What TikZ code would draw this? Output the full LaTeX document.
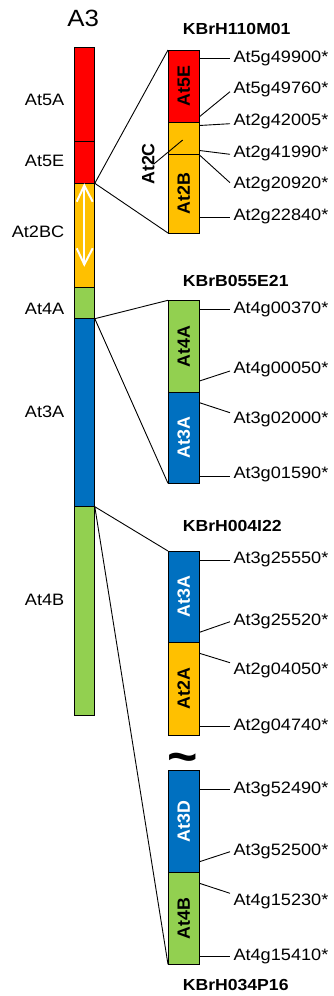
\documentclass[tikz,border=0pt]{standalone}
\usepackage{fontspec}
\usepackage{graphicx}
\setmainfont{Liberation Sans}
\newfontfamily\widesans[FakeStretch=1.1]{Liberation Sans}
\definecolor{cred}{HTML}{FF0000}
\definecolor{cgold}{HTML}{FFC000}
\definecolor{cgreen}{HTML}{92D050}
\definecolor{cblue}{HTML}{0070C0}

\tikzset{
  chrseg/.style={draw=black, line width=0.9pt, minimum width=20.8pt, inner sep=0pt, outer sep=0pt, anchor=north west},
  bacseg/.style={draw=black, line width=0.9pt, minimum width=31.5pt, inner sep=0pt, outer sep=0pt, anchor=north west},
  seglab/.style={rotate=90, inner sep=0pt, font=\fontsize{17.8}{18}\selectfont\bfseries},
  genelab/.style={anchor=base west, inner sep=0pt, font=\widesans\fontsize{16.5}{17}\selectfont},
  leftlab/.style={anchor=base east, inner sep=0pt, font=\widesans\fontsize{16.5}{17}\selectfont},
  clonetitle/.style={anchor=base west, inner sep=0pt, font=\widesans\bfseries\fontsize{16}{17}\selectfont},
  conn/.style={draw=black, line width=0.9pt},
  dupl/.style={draw=white, line width=2pt},
}

% gene marker: id, y on the clone, y at the label, label baseline, name
\newcommand\genemark[5]{%
  \coordinate (#1s) at (199.5,#2);
  \coordinate (#1e) at (230,#3);
  \node[genelab] (#1) at (233.3,#4) {#5};
  \draw[conn] (#1s) -- (#1e);
}

\begin{document}
\begin{tikzpicture}[x=1pt,y=-1pt]
\useasboundingbox (0,0) rectangle (333,996);

% chromosome A3
\node[inner sep=0pt, anchor=base, font=\widesans\fontsize{23.5}{24}\selectfont] (a3) at (83.3,26.7) {A3};
\node[chrseg, fill=cred,   minimum height=94.3pt] (c5a)  at (74,47) {};
\node[chrseg, fill=cred,   minimum height=42pt]   (c5e)  at (74,141.3) {};
\node[chrseg, fill=cgold,  minimum height=104.4pt] (c2bc) at (74,183.3) {};
\node[chrseg, fill=cgreen, minimum height=31pt]   (c4a)  at (74,287.7) {};
\node[chrseg, fill=cblue,  minimum height=188pt]  (c3a)  at (74,318.7) {};
\node[chrseg, fill=cgreen, minimum height=209pt]  (c4b)  at (74,506.7) {};

\node[leftlab] (l5a)  at (64.5,105)   {At5A};
\node[leftlab] (l5e)  at (64.5,166)   {At5E};
\node[leftlab] (l2bc) at (64.5,237.5) {At2BC};
\node[leftlab] (l4a)  at (64.5,314)   {At4A};
\node[leftlab] (l3a)  at (64.5,417.7) {At3A};
\node[leftlab] (l4b)  at (64.5,605)   {At4B};

% inverted segment arrow
\coordinate (invtop) at (84.3,185.5);
\coordinate (invbot) at (84.3,264.5);
\draw[dupl] (invtop) -- (invbot);
\draw[dupl, line join=miter] (76.7,201.7) -- (invtop) -- (92.7,201.7);
\draw[dupl, line join=miter] (76.7,248.3) -- (invbot) -- (92.7,248.3);

% clone KBrH110M01
\node[clonetitle] (t1) at (182.7,34) {KBrH110M01};
\node[bacseg, fill=cred,  minimum height=72.7pt] (k1e) at (168,50) {};
\node[bacseg, fill=cgold, minimum height=31.8pt] (k1c) at (168,122.7) {};
\node[bacseg, fill=cgold, minimum height=78.5pt] (k1b) at (168,154.5) {};
\node[seglab] (k1el) at (k1e.center) {At5E};
\node[seglab] (k1bl) at (k1b.center) {At2B};
\node[seglab] (k1cl) at (148.3,164) {At2C};
\coordinate (k1cp) at (182.7,140);
\draw[conn] ([xshift=-1pt]k1cl.south) -- (k1cp);
\draw[conn] (c5e.south east) -- (k1e.north west);
\draw[conn] (c5e.south east) -- (k1b.south west);
\genemark{g11}{58.3}{58.3}{62.3}{At5g49900*}
\genemark{g12}{116.7}{91.7}{93.5}{At5g49760*}
\genemark{g13}{125.5}{123.7}{125.2}{At2g42005*}
\genemark{g14}{150.5}{154.3}{157}{At2g41990*}
\genemark{g15}{155}{182.7}{188.3}{At2g20920*}
\genemark{g16}{217.7}{217.7}{220}{At2g22840*}

% clone KBrB055E21
\node[clonetitle] (t2) at (182.7,286) {KBrB055E21};
\node[bacseg, fill=cgreen, minimum height=92pt] (k2a) at (168,300.3) {};
\node[bacseg, fill=cblue,  minimum height=91pt] (k2b) at (168,392.3) {};
\node[seglab] (k2al) at (k2a.center) {At4A};
\node[seglab, text=white] (k2bl) at (k2b.center) {At3A};
\draw[conn] (c4a.south east) -- (k2a.north west);
\draw[conn] (c4a.south east) -- (k2b.south west);
\genemark{g21}{309.3}{309.3}{313.3}{At4g00370*}
\genemark{g22}{381}{371}{373.3}{At4g00050*}
\genemark{g23}{402.7}{412.7}{423.3}{At3g02000*}
\genemark{g24}{476}{476}{478.3}{At3g01590*}

% clone KBrH004I22
\node[clonetitle] (t3) at (182.7,531.7) {KBrH004I22};
\node[bacseg, fill=cblue, minimum height=91.7pt] (k3a) at (168,551) {};
\node[bacseg, fill=cgold, minimum height=92.3pt] (k3b) at (168,642.7) {};
\node[seglab, text=white] (k3al) at (k3a.center) {At3A};
\node[seglab] (k3bl) at (k3b.center) {At2A};
\genemark{g31}{560}{560}{563.3}{At3g25550*}
\genemark{g32}{632.3}{621.7}{625}{At3g25520*}
\genemark{g33}{653.3}{662.7}{674}{At2g04050*}
\genemark{g34}{726.7}{726.7}{730.7}{At2g04740*}

% gap between the two clones
\node[inner sep=0pt, anchor=base, font=\fontsize{52}{52}\selectfont\bfseries] (gap) at (182.5,774) {\textasciitilde};

% clone KBrH034P16
\node[bacseg, fill=cblue,  minimum height=102pt]  (k4a) at (168,770.7) {};
\node[bacseg, fill=cgreen, minimum height=91.6pt] (k4b) at (168,872.7) {};
\node[seglab, text=white] (k4al) at (k4a.center) {At3D};
\node[seglab] (k4bl) at (k4b.center) {At4B};
\node[clonetitle] (t4) at (182.7,990.7) {KBrH034P16};
\genemark{g41}{789.3}{789.3}{793.3}{At3g52490*}
\genemark{g42}{861.7}{851.7}{855.7}{At3g52500*}
\genemark{g43}{883.3}{893.3}{905}{At4g15230*}
\genemark{g44}{956}{956}{960}{At4g15410*}

\draw[conn] (c3a.south east) -- (k3a.north west);
\draw[conn] (c3a.south east) -- (k4b.south west);
\end{tikzpicture}
\end{document}
